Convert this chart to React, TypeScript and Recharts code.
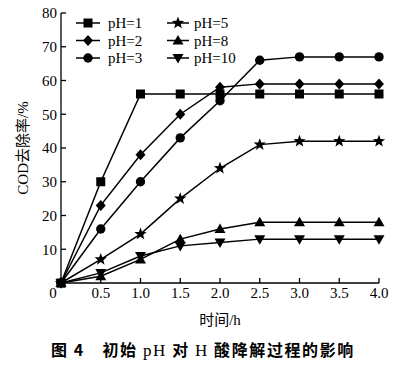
import React from 'react';
import { LineChart, Line, XAxis, YAxis, Legend } from 'recharts';

const hours = [0, 0.5, 1, 1.5, 2, 2.5, 3, 3.5, 4];
const ph1 = [0, 30, 56, 56, 56, 56, 56, 56, 56];
const ph2 = [0, 23, 38, 50, 58, 59, 59, 59, 59];
const ph3 = [0, 16, 30, 43, 54, 66, 67, 67, 67];
const ph5 = [0, 7, 14.5, 25, 34, 41, 42, 42, 42];
const ph8 = [0, 2, 7, 13, 16, 18, 18, 18, 18];
const ph10 = [0, 3, 8, 11, 12, 13, 13, 13, 13];

const xTicks = [0, 0.5, 1, 1.5, 2, 2.5, 3, 3.5, 4];
const yTicks = [0, 10, 20, 30, 40, 50, 60, 70, 80];

const SERIES = [
  { key: 'ph1', name: 'pH=1', shape: 'square', values: ph1 },
  { key: 'ph2', name: 'pH=2', shape: 'diamond', values: ph2 },
  { key: 'ph3', name: 'pH=3', shape: 'circle', values: ph3 },
  { key: 'ph5', name: 'pH=5', shape: 'star', values: ph5 },
  { key: 'ph8', name: 'pH=8', shape: 'up', values: ph8 },
  { key: 'ph10', name: 'pH=10', shape: 'down', values: ph10 },
];

const data = hours.map((h, i) => {
  const row: Record<string, number> = { h };
  SERIES.forEach((s) => {
    row[s.key] = s.values[i];
  });
  return row;
});

const FONT = '"Liberation Serif", "Noto Sans CJK SC", serif';
const INK = '#000';

function starPoints(cx: number, cy: number, ro: number, ri: number) {
  const pts: string[] = [];
  for (let i = 0; i < 10; i++) {
    const r = i % 2 === 0 ? ro : ri;
    const a = -Math.PI / 2 + (i * Math.PI) / 5;
    pts.push(`${cx + r * Math.cos(a)},${cy + r * Math.sin(a)}`);
  }
  return pts.join(' ');
}

function Marker({ shape, cx, cy }: { shape: string; cx: number; cy: number }) {
  switch (shape) {
    case 'square':
      return <rect x={cx - 4.5} y={cy - 4.5} width={9} height={9} fill={INK} />;
    case 'diamond':
      return <polygon points={`${cx},${cy - 5.5} ${cx + 5},${cy} ${cx},${cy + 5.5} ${cx - 5},${cy}`} fill={INK} />;
    case 'circle':
      return <circle cx={cx} cy={cy} r={4.7} fill={INK} />;
    case 'star':
      return <polygon points={starPoints(cx, cy, 6.5, 2.7)} fill={INK} />;
    case 'up':
      return <polygon points={`${cx},${cy - 5.5} ${cx + 5.5},${cy + 4} ${cx - 5.5},${cy + 4}`} fill={INK} />;
    default:
      return <polygon points={`${cx},${cy + 5.5} ${cx + 5.5},${cy - 4} ${cx - 5.5},${cy - 4}`} fill={INK} />;
  }
}

function XTick(props: any) {
  const { x, y, payload } = props;
  const v = payload.value as number;
  const label = v === 0 ? '0' : v.toFixed(1);
  return (
    <g>
      {v !== 0 && <line x1={x} x2={x} y1={y - 3} y2={y - 8} stroke={INK} strokeWidth={1.3} />}
      <text x={v === 0 ? x - 8 : x} y={y} dy="0.78em" textAnchor="middle" fontFamily={FONT} fontSize={15} fill={INK}>
        {label}
      </text>
    </g>
  );
}

function YTick(props: any) {
  const { x, y, payload } = props;
  const v = payload.value as number;
  if (v === 0) return <g />;
  return (
    <g>
      <line x1={x + 4} x2={x + 9} y1={y} y2={y} stroke={INK} strokeWidth={1.3} />
      <text x={x} y={y} dy="0.35em" textAnchor="end" fontFamily={FONT} fontSize={15} fill={INK}>
        {v}
      </text>
    </g>
  );
}

// two columns of three rows, drawn in the plot's top-left corner
function LegendBox() {
  return (
    <svg width={200} height={56} style={{ display: 'block', overflow: 'visible' }}>
      {SERIES.map((s, i) => {
        const col = Math.floor(i / 3);
        const row = i % 3;
        const ox = col * 91;
        const oy = 9 + row * 17.5;
        const len = col === 0 ? 24 : 22;
        return (
          <g key={s.key}>
            <line x1={ox} x2={ox + len} y1={oy} y2={oy} stroke={INK} strokeWidth={1.5} />
            <Marker shape={s.shape} cx={ox + len / 2} cy={oy} />
            <text x={ox + len + (col === 0 ? 8 : 5)} y={oy} dy="0.35em" fontFamily={FONT} fontSize={15} fill={INK}>
              {s.name}
            </text>
          </g>
        );
      })}
    </svg>
  );
}

export default function App() {
  return (
    <div style={{ position: 'absolute', left: 0, top: 0, width: 410, height: 365, background: '#fff' }}>
      <LineChart width={410} height={335} data={data} margin={{ top: 13, right: 31, bottom: 22, left: 21 }}>
        <XAxis
          dataKey="h"
          type="number"
          domain={[0, 4]}
          ticks={xTicks}
          tickLine={false}
          tickSize={0}
          tickMargin={3}
          tick={<XTick />}
          axisLine={{ stroke: INK, strokeWidth: 1.3 }}
          height={30}
          label={{
            content: ({ viewBox }: any) => (
              <text
                x={viewBox.x + viewBox.width / 2}
                y={viewBox.y + 37}
                textAnchor="middle"
                dy="0.35em"
                fontFamily={FONT}
                fontSize={15}
                fill={INK}
              >
                时间/h
              </text>
            ),
          }}
        />
        <YAxis
          type="number"
          domain={[0, 80]}
          ticks={yTicks}
          tickLine={false}
          tickSize={0}
          tickMargin={4}
          tick={<YTick />}
          axisLine={{ stroke: INK, strokeWidth: 1.3 }}
          width={40}
          label={{
            content: ({ viewBox }: any) => {
              const cx = viewBox.x + 2;
              const cy = viewBox.y + viewBox.height / 2;
              return (
                <text
                  x={cx}
                  y={cy}
                  transform={`rotate(-90 ${cx} ${cy})`}
                  textAnchor="middle"
                  dy="0.35em"
                  fontFamily={FONT}
                  fontSize={15}
                  fill={INK}
                >
                  COD去除率/%
                </text>
              );
            },
          }}
        />
        <Legend
          layout="vertical"
          align="center"
          verticalAlign="middle"
          content={() => <LegendBox />}
          wrapperStyle={{ top: 14, left: 76, width: 200 }}
        />
        {SERIES.map((s) => (
          <Line
            key={s.key}
            dataKey={s.key}
            name={s.name}
            stroke={INK}
            strokeWidth={1.5}
            isAnimationActive={false}
            dot={(p: any) => <Marker key={`${s.key}-${p.index}`} shape={s.shape} cx={p.cx} cy={p.cy} />}
            activeDot={false}
          />
        ))}
      </LineChart>
      <div
        style={{
          position: 'absolute',
          left: 51,
          top: 339,
          fontFamily: '"Noto Sans CJK SC", sans-serif',
          fontWeight: 700,
          fontSize: 16,
          letterSpacing: 1.6,
          lineHeight: '20px',
          whiteSpace: 'pre',
          color: INK,
        }}
      >
        图 4{'\u3000'}初始 <span style={{ fontFamily: '"Liberation Serif", serif', fontWeight: 400, fontSize: 17 }}>pH</span> 对{' '}
        <span style={{ fontFamily: '"Liberation Serif", serif', fontWeight: 400, fontSize: 17 }}>H</span> 酸降解过程的影响
      </div>
    </div>
  );
}
